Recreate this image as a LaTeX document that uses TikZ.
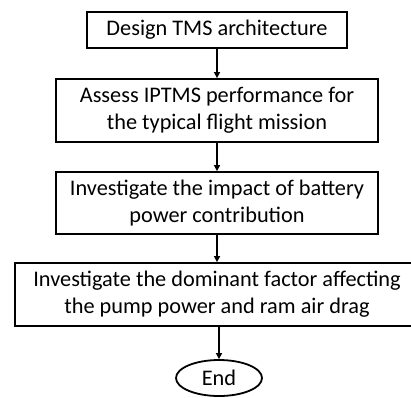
\documentclass[tikz,border=0pt]{standalone}
\usepackage{fontspec}
\setmainfont{Carlito}
\usetikzlibrary{arrows.meta,shapes.geometric}
\begin{document}
\begin{tikzpicture}[x=1pt,y=1pt,
  stepbox/.style={draw=black,line width=1.8pt,align=center,inner sep=0pt,
    font=\fontsize{22.3}{27}\selectfont},
  endnode/.style={draw=black,line width=1.8pt,ellipse,inner sep=0pt,
    minimum width=86pt,minimum height=36pt,font=\fontsize{22.3}{27}\selectfont},
  flow/.style={line width=1.5pt,-{Triangle[length=6pt,width=6pt]}}]
\useasboundingbox (0,0) rectangle (411,-397);
\clip (0,0) rectangle (411,-397);
\node[stepbox,minimum width=260pt,minimum height=36pt] (design) at (217,-30) {Design TMS architecture};
\node[stepbox,minimum width=322pt,minimum height=63pt] (assess) at (217,-110.5) {Assess IPTMS performance for\\the typical flight mission};
\node[stepbox,minimum width=322pt,minimum height=62pt] (battery) at (217,-203) {Investigate the impact of battery\\power contribution};
\node[stepbox,minimum width=404pt,minimum height=63pt] (factor) at (217,-294.5) {Investigate the dominant factor affecting\\the pump power and ram air drag};
\node[endnode] (end) at (219,-378) {End};
\draw[flow] (design) -- (assess);
\draw[flow] (assess) -- (battery);
\draw[flow] (battery) -- (factor);
\draw[flow] (factor.south -| end) -- (end);
\end{tikzpicture}
\end{document}
